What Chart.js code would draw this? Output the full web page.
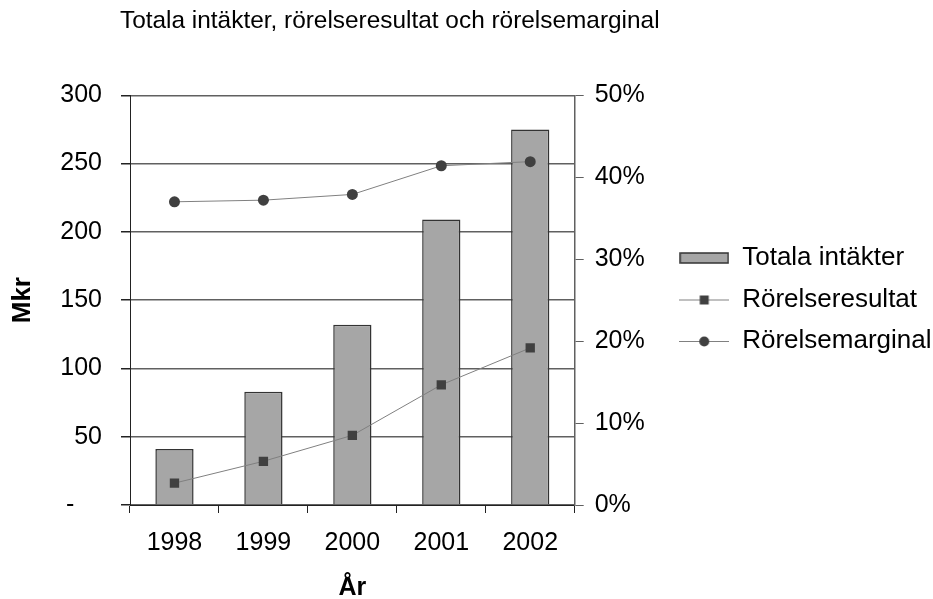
<!DOCTYPE html>
<html>
<head>
<meta charset="utf-8">
<script src="https://cdn.jsdelivr.net/npm/chart.js@4/dist/chart.umd.min.js"></script>
<style>
  html, body { margin: 0; padding: 0; background: #fff; }
  #wrap { width: 933px; height: 599px; position: relative; }
</style>
</head>
<body>
<div id="wrap"><canvas id="salesChart"></canvas></div>
<script>
// ================= DATA =================
const years = ["1998", "1999", "2000", "2001", "2002"];
const revenue = [41, 83, 132, 209, 275];          // Totala intäkter (Mkr)
const opResult = [16, 32, 51, 88, 115];           // Rörelseresultat (Mkr)
const opMargin = [37.0, 37.2, 37.9, 41.4, 41.9];  // Rörelsemarginal (%)

const FONT = "'Liberation Sans', Arial, sans-serif";

// ================= LEGEND ICONS =================
function barIcon() {
    const c = document.createElement("canvas");
    c.width = 50; c.height = 14;
    const g = c.getContext("2d");
    g.fillStyle = "#a6a6a6";
    g.fillRect(1, 2, 48, 10);
    g.strokeStyle = "#333";
    g.lineWidth = 1.5;
    g.strokeRect(1, 2, 48, 10);
    return c;
}

function lineIcon(style) {
    const c = document.createElement("canvas");
    c.width = 50; c.height = 14;
    const g = c.getContext("2d");
    g.strokeStyle = "#808080";
    g.lineWidth = 1;
    g.beginPath();
    g.moveTo(0, 7.5);
    g.lineTo(50, 7.5);
    g.stroke();
    g.fillStyle = "#404040";
    if (style === "rect") {
        g.fillRect(20.5, 3, 9, 9);
    } else {
        g.beginPath();
        g.arc(25, 7.5, 5, 0, Math.PI * 2);
        g.fill();
    }
    return c;
}

const icons = [barIcon(), lineIcon("rect"), lineIcon("circle")];

// title sits left of centre in the original
const titleShift = {
    id: "titleShift",
    afterLayout(chart) {
        chart.titleBlock.left = chart.chartArea.left - 10;
    }
};

// ================= CHART =================
const ctx = document.getElementById("salesChart").getContext("2d");
const chart = new Chart(ctx, {
    type: "bar",
    data: {
        labels: years,
        datasets: [
            {
                type: "bar",
                label: "Totala intäkter",
                data: revenue,
                yAxisID: "y",
                backgroundColor: "#a6a6a6",
                borderColor: "#333",
                borderWidth: 1.5,
                categoryPercentage: 1,
                barPercentage: 0.43,
                order: 2
            },
            {
                type: "line",
                label: "Rörelseresultat",
                data: opResult,
                yAxisID: "y",
                borderColor: "#808080",
                borderWidth: 1,
                pointStyle: "rect",
                pointRadius: 6.6,
                pointBackgroundColor: "#404040",
                pointBorderColor: "#404040",
                pointBorderWidth: 0,
                tension: 0,
                order: 1
            },
            {
                type: "line",
                label: "Rörelsemarginal",
                data: opMargin,
                yAxisID: "y1",
                borderColor: "#808080",
                borderWidth: 1,
                pointStyle: "circle",
                pointRadius: 5.5,
                pointBackgroundColor: "#404040",
                pointBorderColor: "#404040",
                pointBorderWidth: 0,
                tension: 0,
                order: 0
            }
        ]
    },
    options: {
        responsive: true,
        maintainAspectRatio: false,
        animation: false,
        layout: { padding: { left: 2, right: -8.5, top: 0, bottom: 0 } },
        plugins: {
            tooltip: { enabled: false },
            title: {
                display: true,
                text: "Totala intäkter, rörelseresultat och rörelsemarginal",
                align: "start",
                color: "#000",
                font: { family: FONT, size: 24.4, weight: "normal" },
                padding: { top: 7, bottom: 59 }
            },
            legend: {
                position: "right",
                align: "center",
                maxWidth: 320,
                labels: {
                    color: "#000",
                    font: { family: FONT, size: 26 },
                    usePointStyle: true,
                    pointStyleWidth: 50,
                    padding: 15.5,
                    generateLabels: (ch) => ch.data.datasets.map((ds, i) => ({
                        text: ds.label,
                        pointStyle: icons[i],
                        datasetIndex: i,
                        hidden: false,
                        lineWidth: 0,
                        fontColor: "#000"
                    }))
                }
            }
        },
        scales: {
            x: {
                offset: true,
                grid: {
                    offset: true,
                    drawOnChartArea: false,
                    drawTicks: true,
                    tickLength: 8,
                    color: "#222"
                },
                border: { color: "#222", width: 1 },
                ticks: {
                    color: "#000",
                    font: { family: FONT, size: 25 },
                    padding: 15
                },
                title: {
                    display: true,
                    text: "År",
                    color: "#000",
                    font: { family: FONT, size: 25, weight: "bold" },
                    padding: { top: 0, bottom: -4 }
                },
                afterFit: (s) => { s.height = 94; }
            },
            y: {
                position: "left",
                min: 0,
                max: 300,
                ticks: {
                    stepSize: 50,
                    color: "#000",
                    font: { family: FONT, size: 25 },
                    padding: 19,
                    callback: (v) => v === 0 ? "-    " : v
                },
                grid: {
                    color: "#606060",
                    lineWidth: 1.5,
                    tickColor: "#222",
                    tickLength: 9
                },
                border: { color: "#222", width: 1 },
                title: {
                    display: true,
                    text: "Mkr",
                    color: "#000",
                    font: { family: FONT, size: 26, weight: "bold" },
                    padding: { top: 5, bottom: 25 }
                },
                afterFit: (s) => { s.width = 128; }
            },
            y1: {
                position: "right",
                min: 0,
                max: 50,
                ticks: {
                    stepSize: 10,
                    color: "#000",
                    font: { family: FONT, size: 25 },
                    padding: 11,
                    callback: (v) => v + "%"
                },
                grid: {
                    drawOnChartArea: false,
                    color: "#606060",
                    tickLength: 9
                },
                border: { color: "#606060", width: 1.5 },
                afterFit: (s) => { s.width = 89; }
            }
        }
    },
    plugins: [titleShift]
});
</script>
</body>
</html>
